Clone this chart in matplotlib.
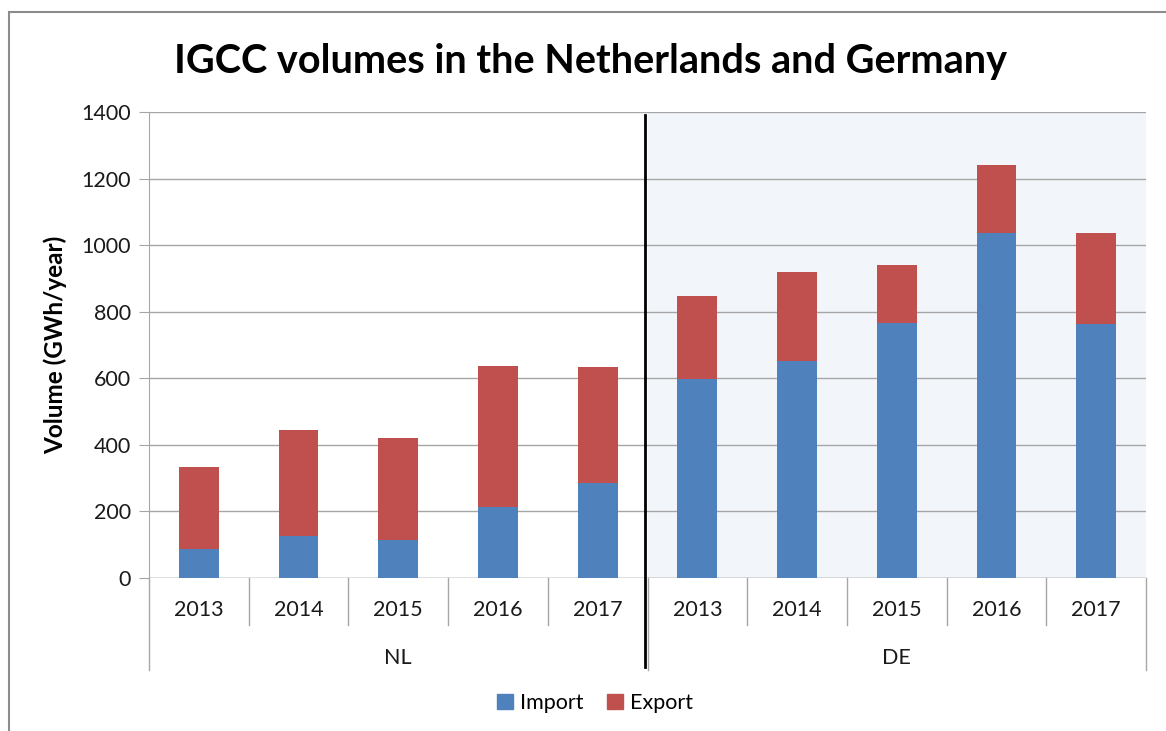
import matplotlib
matplotlib.use("Agg")
import matplotlib.pyplot as plt
from matplotlib.lines import Line2D
from matplotlib.patches import Rectangle, Patch
import numpy as np

plt.rcParams['font.family'] = ['Lato', 'DejaVu Sans']

countries = ["NL", "DE"]
years = ["2013", "2014", "2015", "2016", "2017"]
import_nl = [87, 127, 114, 213, 285]
export_nl = [246, 317, 306, 423, 348]
import_de = [597, 651, 765, 1036, 762]
export_de = [250, 268, 175, 204, 274]

imports = import_nl + import_de
exports = export_nl + export_de
labels = years + years

blue = "#4F81BD"
red = "#C0504D"
grid_c = "#A6A6A6"

fig = plt.figure(figsize=(11.66, 7.31), dpi=100)
ax = fig.add_axes([149/1166, (731-578)/731, (1146-149)/1166, (578-112)/731])

x = np.arange(len(labels))
ax.axvspan(4.5, 9.5, color="#F2F5FA", zorder=0, lw=0)
ax.bar(x, imports, width=0.4, color=blue, zorder=3, label="Import")
ax.bar(x, exports, width=0.4, bottom=imports, color=red, zorder=3, label="Export")

ax.set_xlim(-0.5, 9.5)
ax.set_ylim(0, 1400)
ax.set_yticks(range(0, 1401, 200))
ax.yaxis.grid(True, color=grid_c, lw=1, zorder=1)
ax.set_axisbelow(True)
for s in ["top", "right", "bottom"]:
    ax.spines[s].set_visible(False)
ax.spines["left"].set_color(grid_c)
ax.axhline(0, color=grid_c, lw=1, zorder=2)
ax.tick_params(axis="y", length=7, color=grid_c, labelsize=15.5, pad=6, labelcolor="#1a1a1a")
ax.set_xticks([])
ax.set_ylabel("Volume (GWh/year)", fontsize=17.5, fontweight="bold", labelpad=10)

trans = ax.get_xaxis_transform()
for i, lab in enumerate(labels):
    ax.text(i, -0.068, lab, transform=trans, ha="center", va="center", fontsize=15.5, color="#1a1a1a")
for k, c in enumerate(countries):
    ax.text(2 + 5*k, -0.172, c, transform=trans, ha="center", va="center", fontsize=15.5, color="#1a1a1a")
for b in np.arange(-0.5, 10, 1.0):
    deep = b in (-0.5, 4.5, 9.5)
    ax.add_line(Line2D([b, b], [0, -0.197 if deep else -0.1], transform=trans,
                       color=grid_c, lw=1, clip_on=False))
ax.add_line(Line2D([4.47, 4.47], [0.994, -0.19], transform=trans,
                   color="black", lw=2, clip_on=False, zorder=5))

fig.text(591/1166, 1 - 61/731, "IGCC volumes in the Netherlands and Germany",
         ha="center", va="center", fontsize=28.5, fontweight="bold")

handles = [Patch(color=blue, label="Import"), Patch(color=red, label="Export")]
fig.legend(handles=handles, loc="center", bbox_to_anchor=(595/1166, 1 - 703/731),
           ncol=2, frameon=False, fontsize=15.5, handlelength=0.75, handleheight=0.75,
           handletextpad=0.3, columnspacing=1.1)

fig.add_artist(Rectangle((9/1166, -0.1), 1.2, 1 - 12/731 + 0.1, transform=fig.transFigure,
                         fill=False, edgecolor="#8C8C8C", lw=1.5))

fig.savefig("out.png", dpi=100)
